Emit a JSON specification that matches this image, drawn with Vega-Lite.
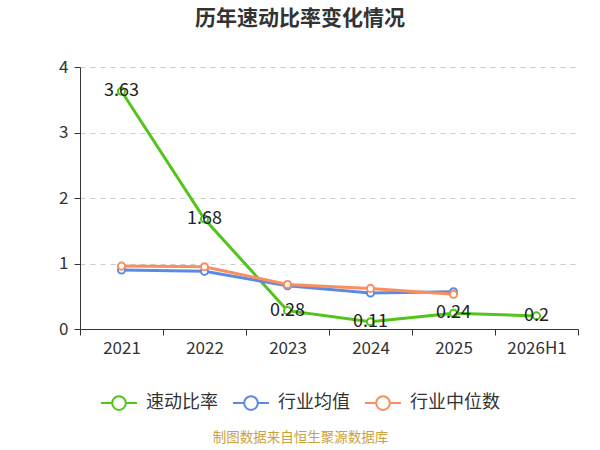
{
  "$schema": "https://vega.github.io/schema/vega-lite/v6.json",
  "autosize": "none",
  "width": 498,
  "height": 262,
  "padding": {"left": 80, "top": 67, "right": 22, "bottom": 121},
  "background": "white",
  "title": {
    "text": "历年速动比率变化情况",
    "font": "Noto Sans CJK SC",
    "fontSize": 21,
    "fontWeight": "bold",
    "color": "#333333",
    "anchor": "middle",
    "dx": -29,
    "offset": 29
  },
  "config": {
    "view": {"stroke": null},
    "font": "Noto Sans CJK SC"
  },
  "data": {
    "values": [
      {"year": "2021", "series": "速动比率", "value": 3.63},
      {"year": "2022", "series": "速动比率", "value": 1.68},
      {"year": "2023", "series": "速动比率", "value": 0.28},
      {"year": "2024", "series": "速动比率", "value": 0.11},
      {"year": "2025", "series": "速动比率", "value": 0.24},
      {"year": "2026H1", "series": "速动比率", "value": 0.2},
      {"year": "2021", "series": "行业均值", "value": 0.9},
      {"year": "2022", "series": "行业均值", "value": 0.88},
      {"year": "2023", "series": "行业均值", "value": 0.66},
      {"year": "2024", "series": "行业均值", "value": 0.55},
      {"year": "2025", "series": "行业均值", "value": 0.57},
      {"year": "2021", "series": "行业中位数", "value": 0.96},
      {"year": "2022", "series": "行业中位数", "value": 0.95},
      {"year": "2023", "series": "行业中位数", "value": 0.68},
      {"year": "2024", "series": "行业中位数", "value": 0.62},
      {"year": "2025", "series": "行业中位数", "value": 0.53}
    ]
  },
  "encoding": {
    "x": {
      "field": "year",
      "type": "ordinal",
      "sort": ["2021", "2022", "2023", "2024", "2025", "2026H1"],
      "scale": {"paddingInner": 0, "paddingOuter": 0},
      "axis": {
        "title": "制图数据来自恒生聚源数据库",
        "titleColor": "#c9a23d",
        "titleFontSize": 13.5,
        "titleFontWeight": "normal",
        "titlePadding": 74,
        "titleX": 220,
        "titleAlign": "center",
        "labelAngle": 0,
        "labelFontSize": 17,
        "labelColor": "#333333",
        "labelPadding": 5,
        "domainColor": "#333333",
        "tickColor": "#333333",
        "tickSize": 6,
        "tickBand": "extent",
        "grid": false
      }
    },
    "y": {
      "field": "value",
      "type": "quantitative",
      "scale": {"domain": [0, 4]},
      "axis": {
        "title": null,
        "tickCount": 4,
        "labelFontSize": 17,
        "labelColor": "#333333",
        "labelPadding": 6,
        "domain": true,
        "domainColor": "#333333",
        "tickColor": "#333333",
        "tickSize": 6,
        "gridColor": "#cccccc",
        "gridDash": [5, 5]
      }
    },
    "color": {
      "field": "series",
      "type": "nominal",
      "sort": ["速动比率", "行业均值", "行业中位数"],
      "scale": {
        "domain": ["速动比率", "行业均值", "行业中位数"],
        "range": ["#52c41a", "#5b8ae6", "#f98e5e"]
      },
      "legend": {
        "title": null,
        "orient": "none",
        "direction": "horizontal",
        "legendX": 20,
        "legendY": 317,
        "symbolType": "M-1,0L-0.38,0M0.38,0L1,0M0.38,0A0.38,0.38,0,1,1,-0.38,0A0.38,0.38,0,1,1,0.38,0",
        "symbolSize": 1296,
        "symbolStrokeWidth": 2,
        "symbolFillColor": "white",
        "labelFontSize": 18,
        "labelColor": "#333333",
        "labelOffset": 8,
        "columnPadding": 11
      }
    }
  },
  "layer": [
    {"mark": {"type": "line", "strokeWidth": 3}},
    {"mark": {"type": "point", "filled": false, "fill": "white", "size": 50, "strokeWidth": 2, "opacity": 1}},
    {
      "transform": [{"filter": "datum.series === '速动比率'"}],
      "mark": {"type": "text", "fontSize": 18, "baseline": "middle", "align": "center"},
      "encoding": {
        "text": {"field": "value", "type": "quantitative"},
        "color": {"value": "#222222"}
      }
    }
  ]
}
